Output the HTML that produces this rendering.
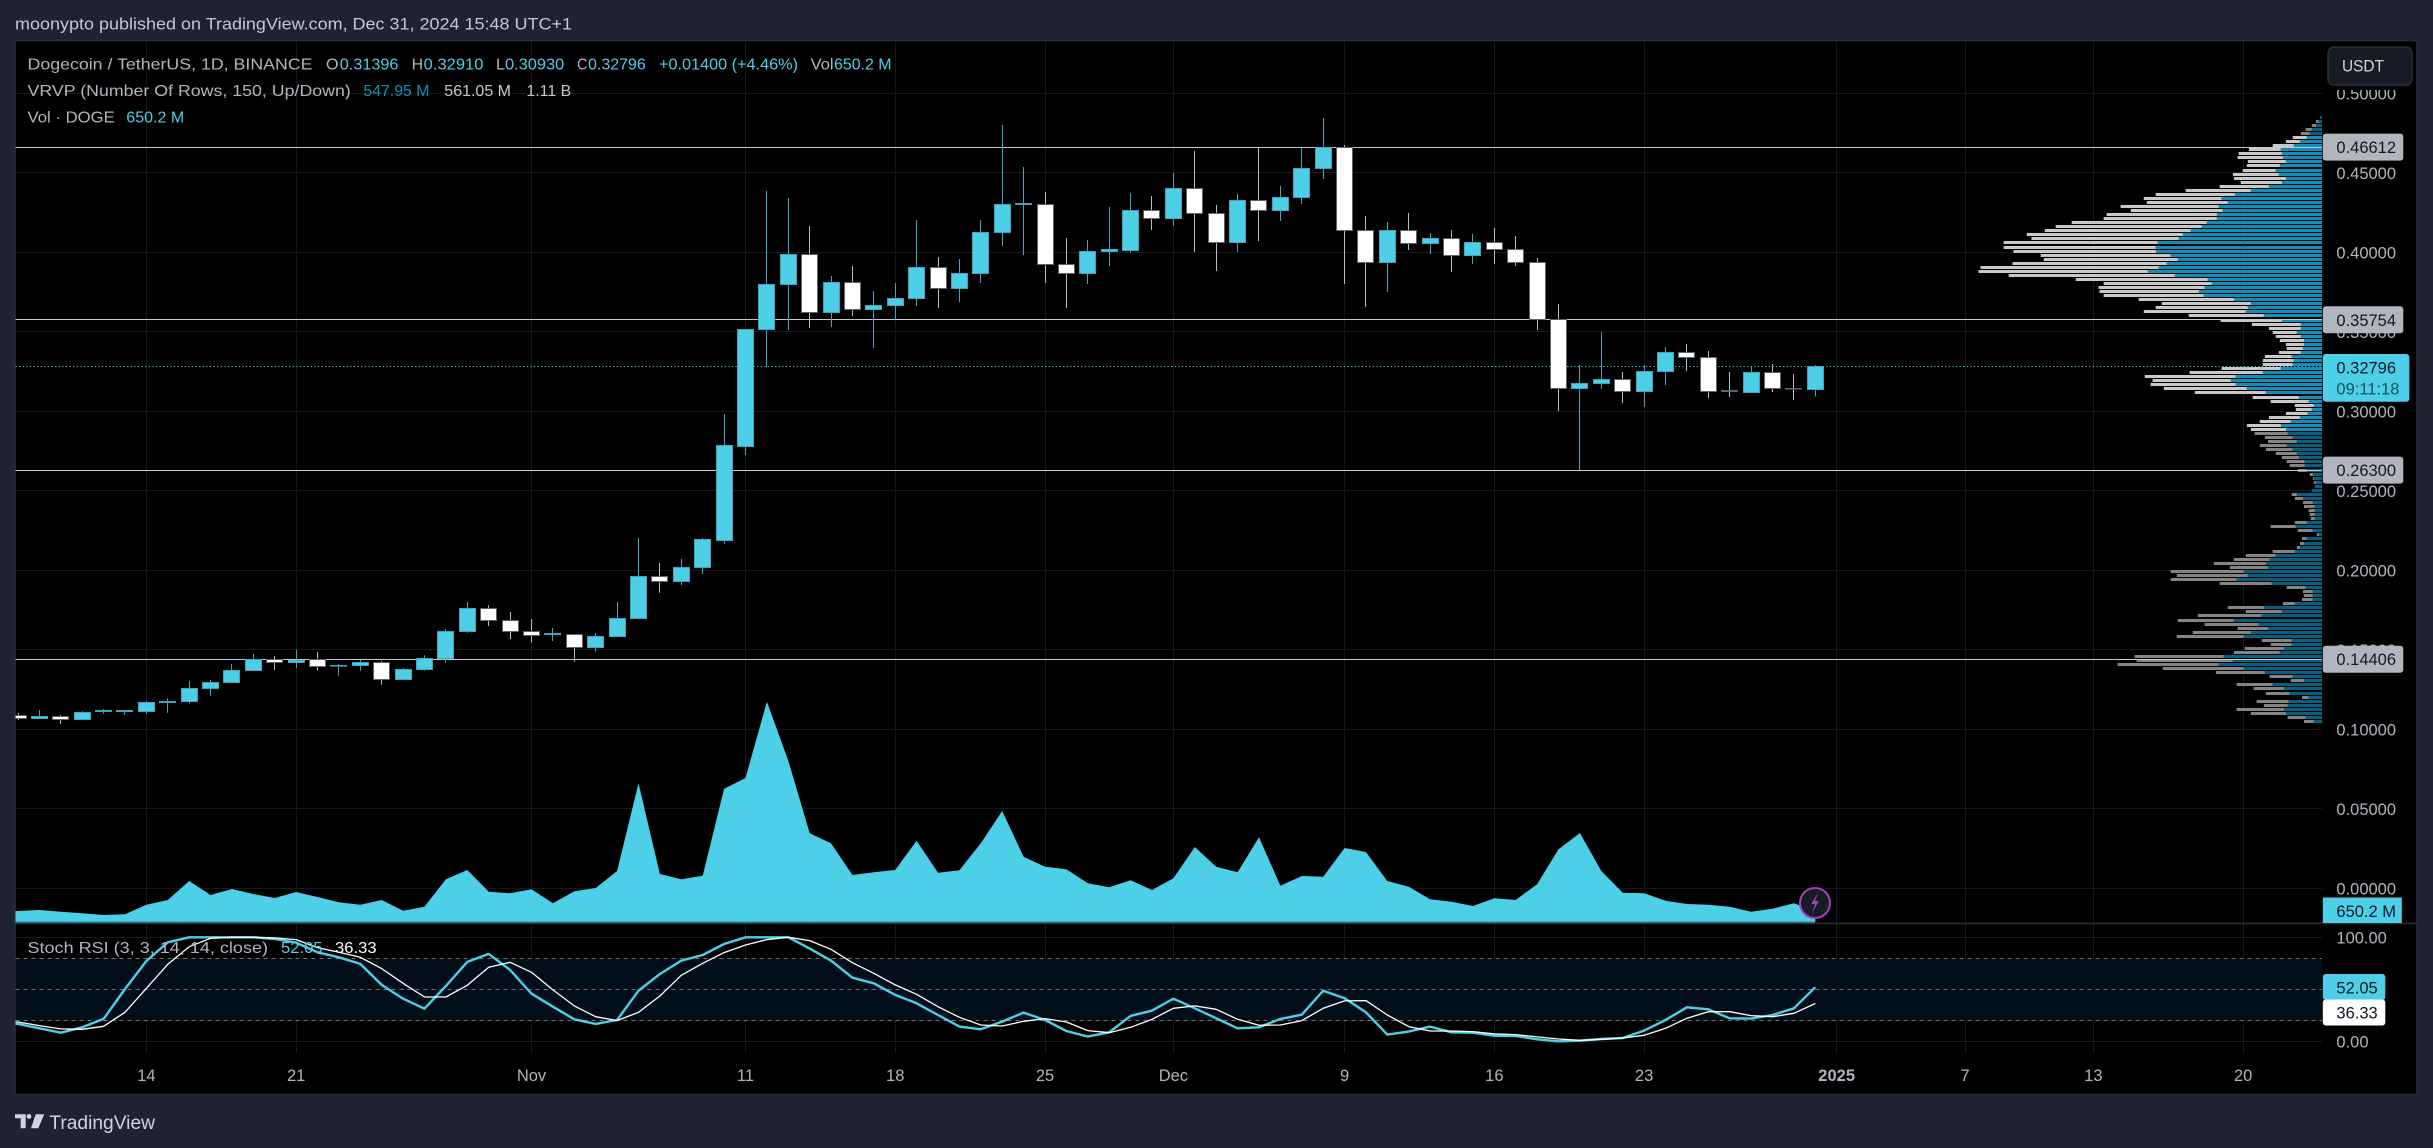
<!DOCTYPE html>
<html lang="en">
<head>
<meta charset="utf-8">
<title>Dogecoin / TetherUS chart</title>
<style>
html,body{margin:0;padding:0;background:#1f2330;width:2433px;height:1148px;overflow:hidden}
svg{display:block;font-family:"Liberation Sans",sans-serif}
.leg{font-size:16px;fill:#b2b5be}
.up{fill:#4dcfe8}
.ax{font-size:16.5px;fill:#b2b5be}
</style>
</head>
<body>
<svg id="chart" xmlns="http://www.w3.org/2000/svg" width="2433" height="1148" viewBox="0 0 2433 1148">
  <defs>
    <clipPath id="plotClip"><rect x="15.5" y="41" width="2306.5" height="1012"/></clipPath>
    <clipPath id="volClip"><rect x="15.5" y="41" width="2306.5" height="882"/></clipPath>
    <clipPath id="axisClip"><rect x="2322" y="90" width="95" height="833"/></clipPath>
  </defs>
  <rect x="0" y="0" width="2433" height="1148" fill="#1f2330"/>
  <text x="15" y="29.5" font-size="16.5" fill="#c4c7cf" textLength="557" lengthAdjust="spacingAndGlyphs">moonypto published on TradingView.com, Dec 31, 2024 15:48 UTC+1</text>
  <rect x="15" y="40.5" width="2402" height="1054" fill="#000" stroke="#2a2e39" stroke-width="1.5"/>
  <g id="grid"></g>
  <g id="stochBand"></g>
  <g id="vrvp" clip-path="url(#plotClip)"></g>
  <g id="levels"></g>
  <g id="candles" clip-path="url(#plotClip)"></g>
  <g id="volume" clip-path="url(#volClip)"></g>
  <line x1="15" x2="2417" y1="923.5" y2="923.5" stroke="#2a2e39" stroke-width="1.5"/>
  <g id="stoch" clip-path="url(#plotClip)"></g>
  <g>
    <circle cx="1815" cy="903" r="15" fill="#171b26" stroke="#a93fb8" stroke-width="2"/>
    <path d="M1818 893 L1811 904 L1815 904 L1812 913 L1819 901 L1815 901 Z" fill="#a93fb8"/>
  </g>
  <g id="axes"></g>

  <g>
    <text class="leg" x="27.5" y="69.5" textLength="285" lengthAdjust="spacingAndGlyphs">Dogecoin / TetherUS, 1D, BINANCE</text>
    <text class="leg" x="326" y="69.5" textLength="12.5" lengthAdjust="spacingAndGlyphs">O</text>
    <text class="leg up" x="339.8" y="69.5" textLength="58.6" lengthAdjust="spacingAndGlyphs">0.31396</text>
    <text class="leg" x="411.6" y="69.5" textLength="11.5" lengthAdjust="spacingAndGlyphs">H</text>
    <text class="leg up" x="423.7" y="69.5" textLength="59.7" lengthAdjust="spacingAndGlyphs">0.32910</text>
    <text class="leg" x="496" y="69.5" textLength="9" lengthAdjust="spacingAndGlyphs">L</text>
    <text class="leg up" x="505" y="69.5" textLength="59.3" lengthAdjust="spacingAndGlyphs">0.30930</text>
    <text class="leg" x="577" y="69.5" textLength="10.5" lengthAdjust="spacingAndGlyphs">C</text>
    <text class="leg up" x="588" y="69.5" textLength="57.8" lengthAdjust="spacingAndGlyphs">0.32796</text>
    <text class="leg up" x="659" y="69.5" textLength="139" lengthAdjust="spacingAndGlyphs">+0.01400 (+4.46%)</text>
    <text class="leg" x="810.6" y="69.5" textLength="23" lengthAdjust="spacingAndGlyphs">Vol</text>
    <text class="leg up" x="834" y="69.5" textLength="57.5" lengthAdjust="spacingAndGlyphs">650.2 M</text>
  </g>
  <g>
    <text class="leg" x="27.5" y="95.8" textLength="323.3" lengthAdjust="spacingAndGlyphs">VRVP (Number Of Rows, 150, Up/Down)</text>
    <text class="leg" style="fill:#1391bb" x="363.4" y="95.8" textLength="66" lengthAdjust="spacingAndGlyphs">547.95 M</text>
    <text class="leg" style="fill:#c8c8c8" x="444.3" y="95.8" textLength="66.7" lengthAdjust="spacingAndGlyphs">561.05 M</text>
    <text class="leg" style="fill:#c8c8c8" x="526.4" y="95.8" textLength="44.8" lengthAdjust="spacingAndGlyphs">1.11 B</text>
  </g>
  <g>
    <text class="leg" x="27.5" y="122.5" textLength="87.3" lengthAdjust="spacingAndGlyphs">Vol · DOGE</text>
    <text class="leg up" x="126.3" y="122.5" textLength="58" lengthAdjust="spacingAndGlyphs">650.2 M</text>
  </g>
  <g>
    <text class="leg" x="27.5" y="953" textLength="240.5" lengthAdjust="spacingAndGlyphs">Stoch RSI (3, 3, 14, 14, close)</text>
    <text class="leg up" x="281" y="953" textLength="41.6" lengthAdjust="spacingAndGlyphs">52.05</text>
    <text class="leg" style="fill:#fff" x="335" y="953" textLength="41.6" lengthAdjust="spacingAndGlyphs">36.33</text>
  </g>

  <g>
    <rect x="2328" y="47" width="84" height="38" rx="6" fill="#171b26" stroke="#2a2e39" stroke-width="1.5"/>
    <text x="2342" y="71.5" font-size="16.5" fill="#d1d4dc" textLength="42" lengthAdjust="spacingAndGlyphs">USDT</text>
  </g>

  <g>
    <path d="M15 1114.3 H25.7 V1128.3 H20.7 V1118.3 H15 Z" fill="#d1d4dc"/>
    <circle cx="29" cy="1116.4" r="2.4" fill="#d1d4dc"/>
    <path d="M35.7 1114.3 H44.3 L38.3 1128.3 H31 Z" fill="#d1d4dc"/>
    <text x="49.3" y="1129" font-size="19" fill="#d1d4dc" textLength="105.7" lengthAdjust="spacingAndGlyphs">TradingView</text>
  </g>
</svg>

<script>
const opens = [.10881,.10667,.10818,.10604,.11107,.11107,.11107,.11673,.11736,.12553,.12931,.13686,.14377,.14189,.14377,.14000,.14000,.14214,.13119,.13748,.14440,.16138,.17610,.16855,.16164,.15950,.15975,.15132,.15824,.16956,.19623,.19283,.20164,.21874,.27774,.35132,.37962,.39874,.36201,.38113,.36390,.36642,.37082,.39057,.37711,.38654,.41233,.42994,.43019,.39245,.38654,.40038,.40101,.42642,.42113,.44025,.42453,.40604,.43270,.42616,.43434,.45258,.46604,.41384,.39346,.41384,.40541,.40881,.39786,.40629,.40189,.39371,.35761,.31421,.31736,.32013,.31233,.32491,.33711,.33396,.31277,.31170,.32453,.31465,.31396];
const highs = [.11025,.11214,.10899,.11132,.11277,.11214,.11780,.11950,.13038,.13101,.14107,.14736,.14610,.14987,.14862,.14107,.14358,.14296,.13855,.14654,.16308,.18006,.17799,.17377,.16937,.16371,.15975,.16057,.18006,.22031,.20459,.20711,.22031,.29830,.35176,.43855,.43415,.41654,.38509,.39138,.37566,.38069,.42031,.39704,.39579,.42031,.48006,.45365,.43792,.40899,.40774,.42849,.43730,.43541,.44987,.46371,.42975,.43667,.46579,.44170,.46579,.48447,.46748,.42283,.41906,.42472,.41214,.41403,.41151,.41528,.41025,.39642,.36748,.32912,.34987,.32472,.32912,.34044,.34233,.33792,.32472,.32786,.32975,.32346,.32910];
const lows = [.10585,.10648,.10333,.10604,.10981,.10899,.10981,.11044,.11610,.12113,.12893,.13667,.13730,.13855,.13686,.13371,.13686,.12805,.13101,.13686,.14189,.16075,.16497,.15679,.15447,.15553,.14252,.14862,.15824,.16956,.18591,.19075,.19767,.21654,.27252,.32767,.35113,.35239,.35302,.35994,.33981,.35723,.36623,.36497,.36874,.38069,.40396,.39830,.38069,.36497,.38006,.39138,.39956,.41403,.41654,.40019,.38824,.40019,.40711,.41969,.43038,.44610,.38006,.36560,.37503,.40145,.39893,.38761,.39264,.39264,.39138,.35113,.30019,.26308,.31403,.30522,.30270,.31654,.32535,.30836,.30899,.31170,.31214,.30711,.30930];
const closes = [.10692,.10818,.10629,.11069,.11151,.11151,.11698,.11761,.12579,.12956,.13711,.14377,.14214,.14358,.13962,.14044,.14214,.13145,.13774,.14465,.16164,.17610,.16830,.16138,.15887,.15994,.15132,.15849,.16981,.19623,.19283,.20189,.21906,.27818,.35176,.37987,.39874,.36226,.38113,.36390,.36667,.37107,.39057,.37711,.38679,.41258,.43019,.43038,.39245,.38654,.40063,.40145,.42642,.42113,.44025,.42428,.40604,.43270,.42616,.43459,.45283,.46604,.41358,.39346,.41384,.40541,.40881,.39786,.40629,.40164,.39346,.35761,.31421,.31761,.32013,.31233,.32516,.33711,.33371,.31233,.31214,.32453,.31421,.31421,.32796];
const volumes = [650,711,608,511,407,450,1034,1319,2475,1623,1988,1684,1441,1806,1502,1180,1034,1319,669,912,2578,3143,1824,1727,1970,1119,1848,2049,3083,8415,2900,2578,2797,8086,8737,13376,9789,5375,4767,2839,3004,3143,4925,2979,3125,4767,6731,3952,3344,3186,2335,2092,2517,1927,2639,4542,3344,3004,5132,2189,2779,2736,4481,4238,2475,2128,1362,1216,955,1423,1319,2274,4402,5393,3083,1763,1727,1277,1076,1034,912,608,790,1119,650.2];
const stochK = [16.7,12.5,8.3,13.5,21.5,50.3,77.2,95.2,100,100,100,100,98.4,94.9,85.6,80.8,74.4,54.2,41,31.4,53.2,76.3,84,68.6,45.8,33.3,21.2,16.7,20.5,48.7,64.7,77.6,83,93.6,100,100,100,89.1,77.6,61.2,55.8,44.6,36.5,25.3,14.1,11.5,18.9,27.6,20.5,9.9,4.5,8.7,24.4,29.5,41,31.7,22.1,12.5,13.5,21.5,25.6,48.7,41.3,27.9,6.4,9.3,14.1,8.7,8.3,5.4,5.1,1.9,0,0.6,2.2,3.2,10.3,20.5,32.7,30.8,22.1,21.8,25.3,31.7,52.05];
const stochD = [18.6,15.1,11.9,11.5,14.4,27.9,51,74,91,99,100,100,99.4,97.8,90.1,85.6,80.8,69.9,55.8,42.6,42.6,53.8,71.2,76,66.3,49.4,34,23.7,19.9,27.9,43.6,63.5,75,85.3,92.6,97.8,100,96.8,88.5,75.6,65.4,54.2,45.2,33.3,23.1,15.7,14.7,19.2,21.8,18.6,10.3,8.3,13.5,21.2,31.7,34,30.8,21.2,15.4,15.7,19.9,31.7,38.8,39.1,25.3,14.1,9.9,9.9,9.3,7.1,6.4,4.2,2.2,1,1.9,3.2,5.8,12.5,22.1,28.5,28.5,24.7,23.7,26.9,36.33];
const profileUp = [6,10,18,30,36,45,65,83,121,118,115,106,124,136,127,106,118,156,209,256,295,277,304,292,309,309,339,354,386,409,421,483,489,488,445,424,457,480,512,433,336,324,345,362,348,259,209,218,224,171,118,62,62,74,62,53,53,56,62,89,83,86,121,174,254,268,254,221,165,68,39,24,30,42,65,92,121,106,101,86,74,104,86,74,68,51,51,45,27,24,18,21,30,74,56,27,21,21,21,21,45,77,27,9,45,53,65,80,136,154,165,159,230,218,251,148,48,27,27,27,80,171,118,177,259,186,159,209,230,89,89,112,124,289,262,304,230,168,86,53,145,112,95,39,98,101,112,106,48,24];
const profileDown = [0,8,12,18,26,41,41,62,94,127,133,112,97,97,135,153,121,145,192,233,229,238,288,270,324,333,397,429,429,459,433,453,447,419,382,394,453,524,498,488,388,318,312,292,294,280,262,271,300,221,180,144,94,71,74,71,53,48,65,79,91,88,174,215,267,230,250,244,209,136,112,56,47,64,91,91,100,103,97,82,85,79,79,62,50,53,44,26,9,3,6,0,0,15,24,29,32,18,15,12,35,74,44,6,14,12,9,65,88,105,153,112,215,209,194,153,56,29,26,32,35,106,106,188,165,159,89,171,197,88,62,115,135,262,283,297,238,144,68,39,106,89,70,20,94,70,139,103,53,29];
const priceTicks = [0.5,0.45,0.4,0.35,0.3,0.25,0.2,0.15,0.1,0.05,0];
const priceLevels = [0.46612,0.35754,0.263,0.14406];
const lastPrice = 0.32796;
const countdown = "09:11:18";
const timeLabels = ["14","21","Nov","11","18","25","Dec","9","16","23","2025","7","13","20"];
const timeLabelBars = [6,13,24,34,41,48,54,62,69,76,85,91,97,104];
const stochTicks = [100,0];
const stochLevels = [80,50,20];

const NS = "http://www.w3.org/2000/svg";
const PLOT_L = 15.5, PLOT_R = 2322, AXIS_X = 2336.4;
const xScale = i => 18 + 21.396 * i;
const yPrice = p => 888.3 - p * 1590;
const yVol = v => 921.7 - v / 60.8;
const yStoch = v => 1041.3 - v * 1.04;
const snap = v => Math.floor(v) + 0.5;
const profileTopPrice = 0.48491;
const profileRowPrice = 0.00255;
const yRow = i => yPrice(profileTopPrice - profileRowPrice * i);
const xProfile = v => PLOT_R - v / 2.94;

function make(tag, attrs, parent) {
  const el = document.createElementNS(NS, tag);
  for (const k in attrs) el.setAttribute(k, attrs[k]);
  parent.appendChild(el);
  return el;
}

/* Grid */
const grid = document.getElementById("grid");
priceTicks.forEach(p => {
  const g = make("line", {x1: PLOT_L, x2: PLOT_R, y1: snap(yPrice(p)), y2: snap(yPrice(p)), stroke: "#16181d", "stroke-width": 1}, grid);
  
  
});
timeLabelBars.forEach(b => {
  const g = make("line", {x1: snap(xScale(b)), x2: snap(xScale(b)), y1: 41, y2: 1053, stroke: "#16181d", "stroke-width": 1}, grid);
  
  
});
stochTicks.forEach(v => {
  const g = make("line", {x1: PLOT_L, x2: PLOT_R, y1: snap(yStoch(v)), y2: snap(yStoch(v)), stroke: "#181a20", "stroke-width": 1}, grid);
  
  
});

/* Stoch band */
const band = document.getElementById("stochBand");
const bandRect = make("rect", {x: PLOT_L, width: PLOT_R - PLOT_L, y: yStoch(stochLevels[0]), height: yStoch(stochLevels[2]) - yStoch(stochLevels[0]), fill: "#02101a", opacity: 0.95}, band);


stochLevels.forEach(v => {
  const l = make("line", {x1: PLOT_L, x2: PLOT_R, y1: snap(yStoch(v)), y2: snap(yStoch(v)), stroke: "#70737e", "stroke-width": 1, "stroke-dasharray": "4 4"}, band);
  
  
});

/* Visible-range volume profile */
const vrvp = document.getElementById("vrvp");
profileUp.forEach((u, i) => {
  const bright = i >= 5 && i <= 77;
  const y = Math.round(yRow(i) - 1.5);
  const upRect = make("rect", {x: xProfile(u), y: y, width: PLOT_R - xProfile(u), height: 3, fill: bright ? "#0f8fb9" : "#07607f"}, vrvp);
  
  
  const d = profileDown[i];
  const dnRect = make("rect", {x: xProfile(u + d), y: y, width: xProfile(u) - xProfile(u + d), height: 3, fill: bright ? "#c8c8c8" : "#848484"}, vrvp);
  
  
});

/* Horizontal levels */
const levels = document.getElementById("levels");
priceLevels.forEach(p => {
  const l = make("line", {x1: PLOT_L, x2: PLOT_R, y1: snap(yPrice(p)), y2: snap(yPrice(p)), stroke: "#c6c8d0", "stroke-width": 1}, levels);
  
  
});
const lastLine = make("line", {x1: PLOT_L, x2: PLOT_R, y1: snap(yPrice(lastPrice)), y2: snap(yPrice(lastPrice)), stroke: "#4dcfe8", "stroke-width": 1, "stroke-dasharray": "1.2 2.4"}, levels);



/* Candles */
const candles = document.getElementById("candles");
opens.forEach((o, i) => {
  const c = closes[i], isUp = c >= o, cx = snap(xScale(i));
  const g = make("g", {}, candles);
  
  
  make("line", {x1: cx, x2: cx, y1: yPrice(highs[i]), y2: yPrice(lows[i]), stroke: isUp ? "#3fa9c2" : "#b9bac2", "stroke-width": 1}, g);
  const top = snap(yPrice(Math.max(o, c))), bot = snap(yPrice(Math.min(o, c)));
  make("rect", {x: cx - 8, y: top, width: 16, height: Math.max(0.6, bot - top), fill: isUp ? "#4dcfe8" : "#ffffff", stroke: isUp ? "#3da5bd" : "#5f616c", "stroke-width": 1}, g);
});

/* Volume area */
const volume = document.getElementById("volume");
let dVol = "M" + PLOT_L + " " + yVol(0) + " L" + PLOT_L + " " + yVol(volumes[0]);
volumes.forEach((v, i) => { dVol += " L" + xScale(i).toFixed(1) + " " + yVol(v).toFixed(1); });
dVol += " L" + xScale(volumes.length - 1).toFixed(1) + " " + yVol(0) + " Z";
const volPath = make("path", {d: dVol, fill: "#4dcfe8"}, volume);


const volBase = make("line", {x1: PLOT_L, x2: xScale(volumes.length - 1), y1: 922.3, y2: 922.3, stroke: "#2c8ba0", "stroke-width": 1.4}, volume);



/* Stoch lines */
const stoch = document.getElementById("stoch");
function stochPts(arr) {
  return PLOT_L + "," + yStoch(arr[0]).toFixed(1) + " " + arr.map((v, i) => xScale(i).toFixed(1) + "," + yStoch(v).toFixed(1)).join(" ");
}
const kLine = make("polyline", {points: stochPts(stochK), fill: "none", stroke: "#4dcfe8", "stroke-width": 2.4, "stroke-linejoin": "round"}, stoch);


const dLine = make("polyline", {points: stochPts(stochD), fill: "none", stroke: "#ffffff", "stroke-width": 1.3, "stroke-linejoin": "round"}, stoch);



/* Axes */
const axes = document.getElementById("axes");
const priceAxis = make("g", {"clip-path": "url(#axisClip)"}, axes);


priceTicks.forEach(p => {
  const t = make("text", {x: AXIS_X, y: yPrice(p) + 6, class: "ax"}, priceAxis);
  
  
  t.textContent = p.toFixed(5);
});
timeLabels.forEach((s, i) => {
  const t = make("text", {x: xScale(timeLabelBars[i]), y: 1081, class: "ax", "text-anchor": "middle"}, axes);
  
  
  t.textContent = s;
  if (s === "2025") { t.setAttribute("font-weight", "bold"); }
});
stochTicks.forEach(v => {
  const t = make("text", {x: AXIS_X, y: yStoch(v) + 6, class: "ax"}, axes);
  
  
  t.textContent = v.toFixed(2);
});

function axisLabel(cy, h, w, bg, fg, str) {
  const g = make("g", {}, axes);
  
  
  make("rect", {x: 2322.8, y: cy - h / 2, width: w, height: h, rx: 3, fill: bg}, g);
  const t = make("text", {x: AXIS_X, y: cy + 6, "font-size": 16.5, fill: fg}, g);
  t.textContent = str;
}
priceLevels.forEach(p => axisLabel(yPrice(p), 27, 80.5, "#b2b5be", "#131722", p.toFixed(5)));

/* Last price + countdown */
const lastG = make("g", {}, axes);


make("rect", {x: 2322.8, y: 354, width: 86.5, height: 47.7, rx: 3, fill: "#4dcfe8"}, lastG);
const lastT = make("text", {x: AXIS_X, y: 373.7, "font-size": 16.5, fill: "#0d1a22"}, lastG);
lastT.textContent = lastPrice.toFixed(5);
const cdT = make("text", {x: AXIS_X, y: 394.7, "font-size": 16.5, fill: "#14505f"}, lastG);
cdT.textContent = countdown;

/* Volume label */
const volG = make("g", {}, axes);


make("rect", {x: 2322.8, y: 897.5, width: 79, height: 25.5, fill: "#4dcfe8"}, volG);
const volT = make("text", {x: AXIS_X, y: 917, "font-size": 16.5, fill: "#131722"}, volG);
volT.textContent = volumes[volumes.length - 1].toFixed(1) + " M";

/* Stoch value labels */
const kG = make("g", {}, axes);


make("rect", {x: 2322.8, y: 974, width: 62.5, height: 26, rx: 3, fill: "#4dcfe8"}, kG);
const kT = make("text", {x: AXIS_X, y: 993.3, "font-size": 16.5, fill: "#131722"}, kG);
kT.textContent = stochK[stochK.length - 1].toFixed(2);
const dG = make("g", {}, axes);


make("rect", {x: 2322.8, y: 999.5, width: 62.5, height: 26, rx: 3, fill: "#ffffff"}, dG);
const dT = make("text", {x: AXIS_X, y: 1018.7, "font-size": 16.5, fill: "#131722"}, dG);
dT.textContent = stochD[stochD.length - 1].toFixed(2);
</script>
</body>
</html>
